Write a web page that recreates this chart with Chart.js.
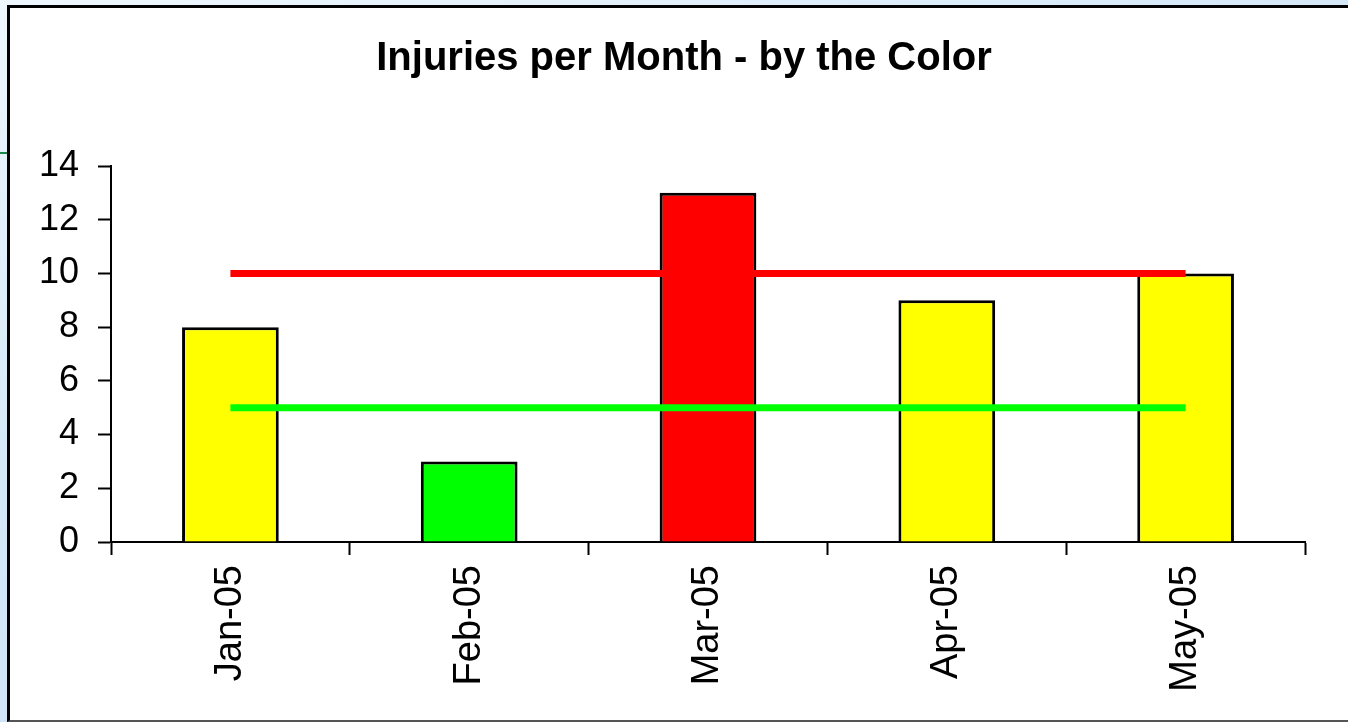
<!DOCTYPE html>
<html lang="en">
<head>
  <meta charset="UTF-8">
  <title>Injuries per Month - by the Color</title>
  <style>
    html, body {
      margin: 0;
      padding: 0;
      width: 1348px;
      height: 722px;
      overflow: hidden;
    }
    body {
      background: linear-gradient(160deg, #eef7fd 0%, #d4e8f8 40%, #c6def4 100%);
      position: relative;
      font-family: "Liberation Sans", Arial, sans-serif;
    }
    .green-rule {
      position: absolute;
      left: 0;
      top: 152px;
      width: 8px;
      height: 2px;
      background: #1a8a4a;
    }
    .frame {
      position: absolute;
      left: 7px;
      top: 5px;
      width: 1360px;
      height: 712px;
      background: #fff;
      border-left: 3px solid #000;
      border-top: 3px solid #000;
      border-bottom: 2px solid #555;
    }
    #chart {
      position: absolute;
      left: 0;
      top: 0;
    }
  </style>
</head>
<body>
  <div class="green-rule"></div>
  <div class="frame"></div>
  <canvas id="chart" width="1348" height="722"></canvas>

  <script src="https://cdn.jsdelivr.net/npm/chart.js"></script>
  <script>
    // data
    const months = ['Jan-05', 'Feb-05', 'Mar-05', 'Apr-05', 'May-05'];
    const injuries = [8, 3, 13, 9, 10];
    const barColors = ['#ffff00', '#00ff00', '#ff0000', '#ffff00', '#ffff00'];
    const redLimit = [10, 10, 10, 10, 10];
    const greenLimit = [5, 5, 5, 5, 5];
    const yTicks = { min: 0, max: 14, step: 2 };

    const fontFamily = '"Liberation Sans", Arial, sans-serif';

    // the title in the picture sits a bit right of the chart's centre
    const shiftTitle = {
      id: 'shiftTitle',
      afterLayout(chart) {
        if (chart.titleBlock) {
          chart.titleBlock.left = 20;
          chart.titleBlock.right = 1348;
        }
      }
    };

    const ctx = document.getElementById('chart').getContext('2d');
    new Chart(ctx, {
      type: 'bar',
      data: {
        labels: months,
        datasets: [
          {
            type: 'line',
            label: 'Red limit',
            data: redLimit,
            borderColor: '#ff0000',
            borderWidth: 7,
            pointRadius: 0,
            fill: false,
            order: 0
          },
          {
            type: 'line',
            label: 'Green limit',
            data: greenLimit,
            borderColor: '#00ff00',
            borderWidth: 7,
            pointRadius: 0,
            fill: false,
            order: 0
          },
          {
            label: 'Injuries',
            data: injuries,
            backgroundColor: barColors,
            borderColor: '#000',
            borderWidth: 3,
            categoryPercentage: 0.405,
            barPercentage: 1.0,
            order: 1
          }
        ]
      },
      options: {
        responsive: false,
        animation: false,
        layout: { padding: { left: 0, right: 43, top: 0, bottom: 0 } },
        plugins: {
          legend: { display: false },
          tooltip: { enabled: false },
          title: {
            display: true,
            text: 'Injuries per Month - by the Color',
            color: '#000',
            font: { family: fontFamily, size: 40, weight: 'bold' },
            padding: { top: 35, bottom: 83 }
          }
        },
        scales: {
          x: {
            grid: {
              offset: true,
              drawOnChartArea: false,
              drawTicks: true,
              tickLength: 13,
              tickWidth: 2,
              tickColor: '#000'
            },
            border: { display: true, color: '#000', width: 2 },
            ticks: {
              color: '#000',
              font: { family: fontFamily, size: 38 },
              minRotation: 90,
              maxRotation: 90,
              padding: 10
            },
            afterFit: (scale) => { scale.height = 180; }
          },
          y: {
            min: yTicks.min,
            max: yTicks.max,
            grid: {
              drawOnChartArea: false,
              drawTicks: true,
              tickLength: 13,
              tickWidth: 2,
              tickColor: '#000'
            },
            border: { display: true, color: '#000', width: 2 },
            ticks: {
              stepSize: yTicks.step,
              color: '#000',
              font: { family: fontFamily, size: 36 },
              padding: 19
            },
            afterFit: (scale) => { scale.width = 111; }
          }
        }
      },
      plugins: [shiftTitle]
    });
  </script>
</body>
</html>
